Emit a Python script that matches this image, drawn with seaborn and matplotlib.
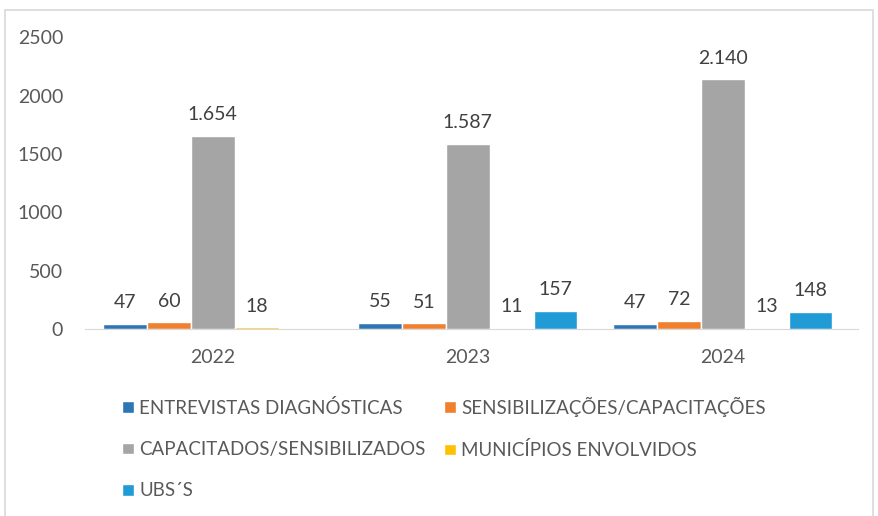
import numpy as np
import pandas as pd
import seaborn as sns
import matplotlib
matplotlib.use("Agg")
import matplotlib.pyplot as plt
from matplotlib.patches import Rectangle, Patch

# %% data
anos = ["2022", "2023", "2024"]
series = ["ENTREVISTAS DIAGNÓSTICAS", "SENSIBILIZAÇÕES/CAPACITAÇÕES",
          "CAPACITADOS/SENSIBILIZADOS", "MUNICÍPIOS ENVOLVIDOS", "UBS´S"]
entrevistas = [47, 55, 47]
sensibilizacoes = [60, 51, 72]
capacitados = [1654, 1587, 2140]
municipios = [18, 11, 13]
ubs = [np.nan, 157, 148]
cores = ["#2E75B6", "#F07F2E", "#A5A5A5", "#FFC000", "#219BD6"]

# %% long table for seaborn
valores = [entrevistas, sensibilizacoes, capacitados, municipios, ubs]
rows = []
for nome, vals in zip(series, valores):
    for ano, v in zip(anos, vals):
        rows.append({"ano": ano, "serie": nome, "valor": v})
df = pd.DataFrame(rows)

sns.set_style("white")
plt.rcParams["font.family"] = ["Lato", "DejaVu Sans"]

fig = plt.figure(figsize=(8.79, 5.16), dpi=100)
ax = fig.add_axes([0.097, 0.362, 0.879, 0.566])
sns.barplot(data=df, x="ano", y="valor", hue="serie", hue_order=series,
            palette=cores, width=0.86, saturation=1, ax=ax, legend=False,
            errorbar=None)

def fmt(v):
    return f"{int(v):,}".replace(",", ".")

for cont in ax.containers:
    labels = ["" if np.isnan(b.get_height()) else fmt(b.get_height()) for b in cont]
    ax.bar_label(cont, labels=labels, padding=9, fontsize=14, color="#404040")

ax.set_ylim(0, 2500)
ax.set_xlim(-0.5, 2.53)
ax.set_yticks([0, 500, 1000, 1500, 2000, 2500])
ax.set_xlabel("")
ax.set_ylabel("")
ax.tick_params(axis="both", length=0, labelsize=14, colors="#595959")
ax.tick_params(axis="x", pad=14)
ax.tick_params(axis="y", pad=16)
for s in ["top", "left", "right"]:
    ax.spines[s].set_visible(False)
ax.spines["bottom"].set_color("#D9D9D9")

# legend, row order like the original (matplotlib fills by column)
ordem = [0, 2, 4, 1, 3]
handles = [Patch(facecolor=cores[i], label=series[i]) for i in ordem]
fig.legend(handles=handles, ncol=2, loc="upper left", bbox_to_anchor=(0.12, 0.264),
           frameon=False, fontsize=13.5, labelcolor="#595959", handlelength=0.6,
           handleheight=0.6, handletextpad=0.3, columnspacing=1.0, labelspacing=1.3)

# outer chart border
fig.patches.append(Rectangle((5 / 879, -0.01), 868 / 879, 1 - 10 / 516 + 0.01,
                             transform=fig.transFigure, fill=False,
                             edgecolor="#D9D9D9", linewidth=1.2))

fig.savefig("out.png", dpi=100)
